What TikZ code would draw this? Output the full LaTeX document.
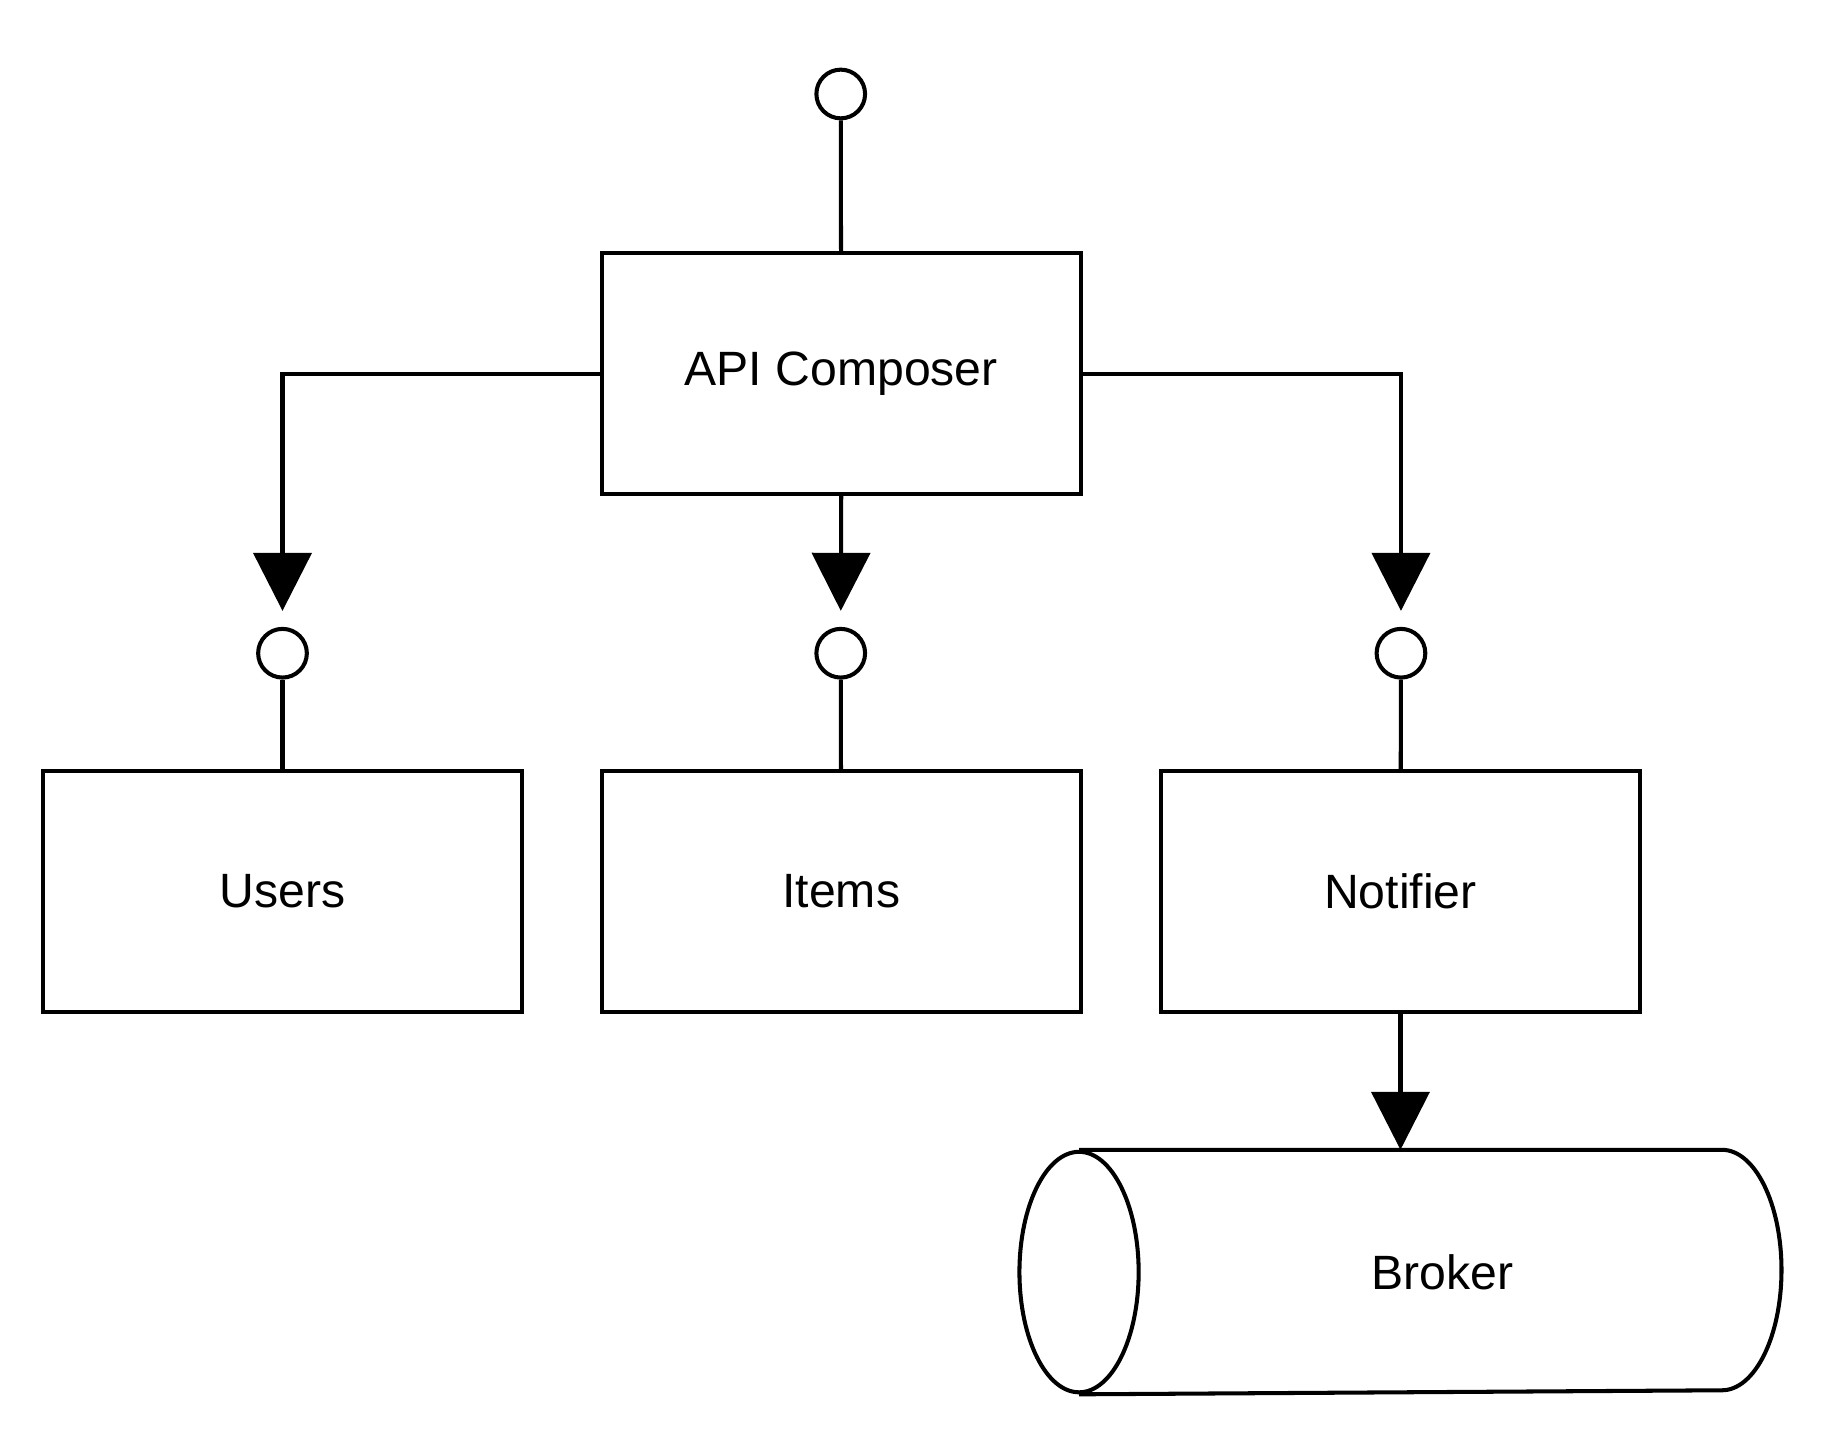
\documentclass[tikz,border=0pt]{standalone}
\usepackage{fontspec}
\setmainfont{Liberation Sans}
\usepackage{tikz}
\usetikzlibrary{arrows.meta}

\begin{document}
\begin{tikzpicture}[x=0.00994cm,y=-0.00994cm,line width=1.15pt,
    font=\fontsize{13.7}{16}\selectfont,
    box/.style={draw,minimum width=4.79cm,minimum height=2.405cm,inner sep=0},
    port/.style={draw,circle,minimum size=0.487cm,inner sep=0},
    flow/.style={-{Triangle[length=0.58cm,width=0.58cm]}}]
  \useasboundingbox (0,0) rectangle (18.24cm,-14.36cm);

  \begin{scope}[shift={(1.4,0.6)}]
  \node (apip) [port] at (845,94) {};
  \node (api) [box] at (845.5,375.5) {API Composer};

  \node (usrp) [port] at (283,657) {};
  \node (itmp) [port] at (845,657) {};
  \node (ntfp) [port] at (1409,657) {};

  \node (usr) [box] at (283,897) {Users};
  \node (itm) [box] at (845.5,897) {Items};
  \node (ntf) [box] at (1408.5,897) {Notifier};

  \node (brk) [minimum width=7.58cm,minimum height=2.405cm,inner sep=0] at (1408.5,1280) {};
  \node (brkt) at ([xshift=0.417cm]brk.center) {Broker};
  \draw ([xshift=0.596cm]brk.north west) -- ([xshift=-0.596cm]brk.north east)
    arc[start angle=90,end angle=-90,x radius=0.596cm,y radius=1.2025cm]
    -- ([xshift=0.596cm]brk.south west);
  \draw ([xshift=0.596cm]brk.west) ellipse [x radius=0.596cm,y radius=1.2025cm];

  \draw (apip) -- (api);
  \draw[flow,shorten >=0.16cm] (api.west) -| (usrp.north);
  \draw[flow,shorten >=0.16cm] (api.south) -- (itmp.north);
  \draw[flow,shorten >=0.16cm] (api.east) -| (ntfp.north);

  \draw (usrp) -- (usr);
  \draw (itmp) -- (itm);
  \draw (ntfp) -- (ntf);
  \draw[flow] (ntf.south) -- (brk.north);
  \end{scope}
\end{tikzpicture}
\end{document}
